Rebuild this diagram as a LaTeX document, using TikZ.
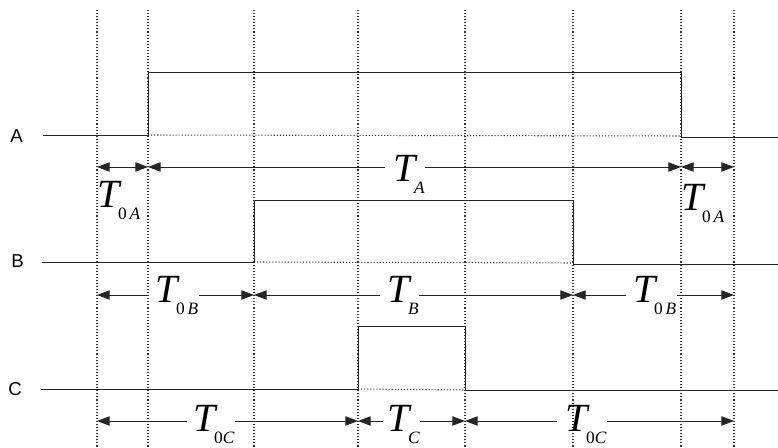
\documentclass[tikz,border=0pt]{standalone}
\usepackage{fontspec}
\setmainfont{Liberation Serif}
\newfontfamily\lblfont{Liberation Sans}
\usetikzlibrary{arrows.meta,calc}
\newcommand\Tlab[1]{{\fontsize{30}{30}\selectfont\itshape T}\kern-1pt\raisebox{-9pt}{\fontsize{13}{13}\selectfont #1}}
\begin{document}
\begin{tikzpicture}[x=0.75pt,y=-0.75pt,
 sig/.style={line width=0.65pt, draw=black!85},
 gridline/.style={line width=0.8pt, draw=black!80, dash pattern=on 0.8pt off 1.5pt},
 dim/.style={line width=0.65pt, draw=black!85},
 tip/.style={-{Triangle[length=9.5pt,width=7pt]}},
 tips/.style={{Triangle[length=9.5pt,width=7pt]}-{Triangle[length=9.5pt,width=7pt]}},
 sname/.style={anchor=base west, inner sep=0pt, font=\lblfont\fontsize{14}{14}\selectfont},
 tlbl/.style={anchor=base west, inner sep=0pt}]
\useasboundingbox (0,0) rectangle (778,448);
\fill[white] (0,0) rectangle (778,448);

% grid coordinates
\foreach \x/\n in {97/1,148/2,254/3,358/4,465/5,573/6,681/7,734/8}{
  \coordinate (g\n) at (\x,10);
  \coordinate (b\n) at (\x,448);
  \draw[gridline] (g\n) -- (b\n);
}
\coordinate (rA) at (0,167);
\coordinate (rB) at (0,295);
\coordinate (rC) at (0,421);

% signal names
\node[sname] (nA) at (10,143) {A};
\node[sname] (nB) at (11,268) {B};
\node[sname] (nC) at (8,396) {C};

% signal A
\draw[sig] (43,135) -- (148,135) -- (148,72) -- (681,72) -- (681,137) -- (778,137);
\draw[gridline] (148,135) -- (681,136);
% signal B
\draw[sig] (42,262) -- (254,262) -- (254,200) -- (573,200) -- (573,264) -- (778,264);
\draw[gridline] (254,262) -- (573,263);
% signal C
\draw[sig] (41,389) -- (358,389) -- (358,326) -- (465,326) -- (465,390) -- (778,390);
\draw[gridline] (358,389) -- (465,390);

% labels
\node[tlbl] (T0Al) at (97,208) {\Tlab{0\,\itshape A}};
\node[tlbl] (TA) at (393,182) {\Tlab{\itshape A}};
\node[tlbl] (T0Ar) at (681,211) {\Tlab{0\,\itshape A}};
\node[tlbl] (T0Bl) at (155,303) {\Tlab{0\,\itshape B}};
\node[tlbl] (TB) at (387,303) {\Tlab{\itshape B}};
\node[tlbl] (T0Br) at (633,303) {\Tlab{0\,\itshape B}};
\node[tlbl] (T0Cl) at (193,432) {\Tlab{0\itshape C}};
\node[tlbl] (TC) at (387,432) {\Tlab{\itshape C}};
\node[tlbl] (T0Cr) at (565,432) {\Tlab{0\itshape C}};

% row A
\draw[dim,tips] (g1|-rA) -- (g2|-rA);
\draw[dim,tip] ($(TA.west|-rA)+(-8,0)$) -- (g2|-rA);
\draw[dim,tip] (TA.east|-rA) -- (g7|-rA);
\draw[dim,tips] (g7|-rA) -- (g8|-rA);
% row B
\draw[dim,tip] ($(T0Bl.west|-rB)+(-7,0)$) -- (g1|-rB);
\draw[dim,tip] (T0Bl.east|-rB) -- (g3|-rB);
\draw[dim,tip] ($(TB.west|-rB)+(-7,0)$) -- (g3|-rB);
\draw[dim,tip] (TB.east|-rB) -- (g6|-rB);
\draw[dim,tip] ($(T0Br.west|-rB)+(-7,0)$) -- (g6|-rB);
\draw[dim,tip] (T0Br.east|-rB) -- (g8|-rB);
% row C
\draw[dim,tip] ($(T0Cl.west|-rC)+(-6,0)$) -- (g1|-rC);
\draw[dim,tip] (T0Cl.east|-rC) -- (g4|-rC);
\draw[dim,tip] ($(TC.west|-rC)+(-4,0)$) -- (g4|-rC);
\draw[dim,tip] (TC.east|-rC) -- (g5|-rC);
\draw[dim,tip] ($(T0Cr.west|-rC)+(-8,0)$) -- (g5|-rC);
\draw[dim,tip] (T0Cr.east|-rC) -- (g8|-rC);
\end{tikzpicture}
\end{document}
